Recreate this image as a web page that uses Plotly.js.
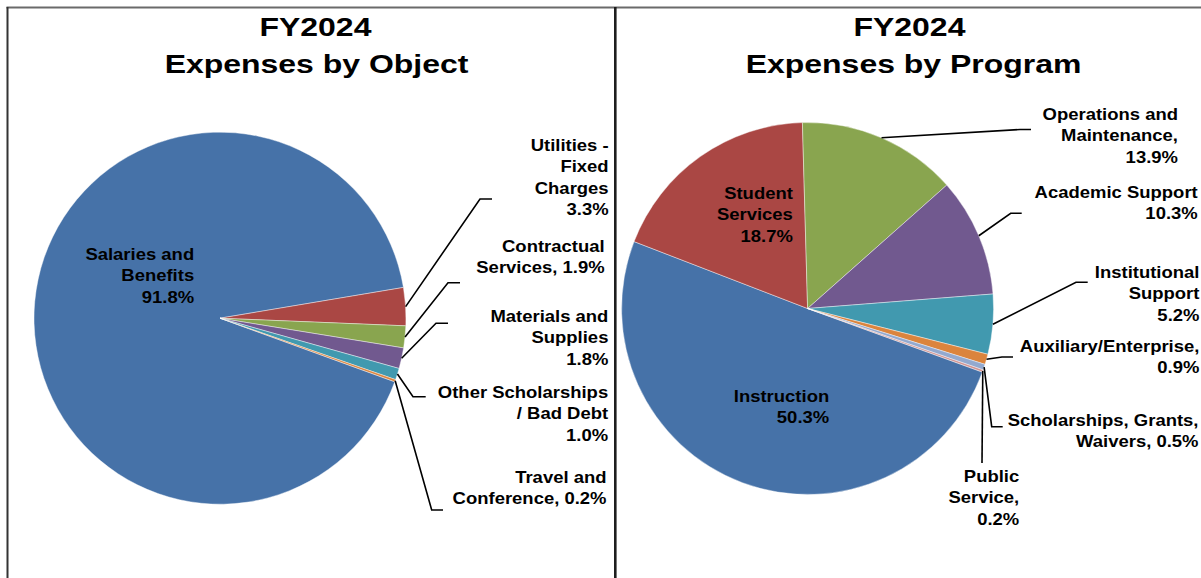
<!DOCTYPE html>
<html>
<head>
<meta charset="utf-8">
<script src="https://cdn.plot.ly/plotly-3.0.1.min.js"></script>
<style>
html,body{margin:0;padding:0;background:#fff;overflow:hidden;}
#chart{width:1201px;height:578px;}
</style>
</head>
<body>
<div id="chart"></div>
<script>
// ---- Data ----
const objectLabels = ['Salaries and Benefits', 'Utilities - Fixed Charges', 'Contractual Services', 'Materials and Supplies', 'Other Scholarships / Bad Debt', 'Travel and Conference'];
const objectValues = [91.8, 3.3, 1.9, 1.8, 1.0, 0.2];
const objectLabelLines = ['Salaries and<br>Benefits<br>', 'Utilities -<br>Fixed<br>Charges<br>', 'Contractual<br>Services, ', 'Materials and<br>Supplies<br>', 'Other Scholarships<br>/ Bad Debt<br>', 'Travel and<br>Conference, '];

const programLabels = ['Instruction', 'Student Services', 'Operations and Maintenance', 'Academic Support', 'Institutional Support', 'Auxiliary/Enterprise', 'Scholarships, Grants, Waivers', 'Public Service'];
const programValues = [50.3, 18.7, 13.9, 10.3, 5.2, 0.9, 0.5, 0.2];
const programLabelLines = ['Instruction<br>', 'Student<br>Services<br>', 'Operations and<br>Maintenance,<br>', 'Academic Support<br>', 'Institutional<br>Support<br>', 'Auxiliary/Enterprise,<br>', 'Scholarships, Grants,<br>Waivers, ', 'Public<br>Service,<br>'];

const titleYear = 'FY2024';
const titleObject = 'Expenses by Object';
const titleProgram = 'Expenses by Program';

const sliceColors = ['#4672A8', '#AA4744', '#89A54F', '#71598F', '#4199AF', '#DB843D', '#93A9CF', '#D19392'];

// ---- Layout helpers ----
const W = 1201, H = 578;
const px = x => x / W;
const py = y => 1 - y / H;

const ROT = 110;
const pieL = {cx: 220, cy: 318.2, r: 186};
const pieR = {cx: 807.6, cy: 308.5, r: 186};

function domainOf(p) {
  return {x: [px(p.cx - p.r), px(p.cx + p.r)], y: [py(p.cy + p.r), py(p.cy - p.r)]};
}
function edgePoint(values, idx, p) {
  const total = values.reduce((a, b) => a + b, 0);
  let start = ROT;
  for (let i = 0; i < idx; i++) start += values[i] / total * 360;
  const mid = (start + values[idx] / total * 180) * Math.PI / 180;
  return [p.cx + p.r * Math.sin(mid), p.cy - p.r * Math.cos(mid)];
}

const font = {family: 'Liberation Sans, Arial, sans-serif', size: 16.5, color: '#000', weight: 'bold'};

const traces = [
  {
    type: 'pie', labels: objectLabels, values: objectValues, sort: false,
    direction: 'clockwise', rotation: ROT, textinfo: 'none', hoverinfo: 'label+percent',
    marker: {colors: sliceColors, line: {color: 'rgba(255,255,255,0.7)', width: 0.6}},
    domain: domainOf(pieL), showlegend: false
  },
  {
    type: 'pie', labels: programLabels, values: programValues, sort: false,
    direction: 'clockwise', rotation: ROT, textinfo: 'none', hoverinfo: 'label+percent',
    marker: {colors: sliceColors, line: {color: 'rgba(255,255,255,0.7)', width: 0.6}},
    domain: domainOf(pieR), showlegend: false
  }
];

// label positions: [right edge x, center y] in px
const objectLabelPos = [[196, 275], [610, 177], [606, 256], [610, 337], [610, 413], [608, 488]];
const programLabelPos = [[831, 406], [794, 214], [1179, 135], [1199, 203], [1201, 293], [1201, 356], [1200, 430], [1021, 497]];

// leader lines: elbow + end in px (null = no leader)
const objectLeaders = [null, [[480, 199], [492, 199]], [[448, 282.7], [460, 282.7]], [[436, 323.3], [448, 323.3]], [[413, 396.7], [425.7, 396.7]], [[431.7, 510], [443, 510]]];
const programLeaders = [null, null, [[1020, 129.5], [1031, 129.5]], [[1010.7, 213.3], [1021.7, 213.3]], [[1076, 282.3], [1087.7, 282.3]], [[1002, 357], [1013, 357]], [[991.7, 426.7], [1002.7, 426.7]], [[982, 463], [982, 463]]];

const annotations = [];
const shapes = [];
const stretch = []; // per annotation: [scaleX, origin]

function addLabels(labelsText, values, pos) {
  labelsText.forEach((t, i) => {
    annotations.push({
      xref: 'paper', yref: 'paper', x: px(pos[i][0]), y: py(pos[i][1]),
      xanchor: 'right', yanchor: 'middle', align: 'right', showarrow: false,
      borderpad: 0, text: t + values[i].toFixed(1) + '%', font: font
    });
    stretch.push([1.12, '100% 50%']);
  });
}
addLabels(objectLabelLines, objectValues, objectLabelPos);
addLabels(programLabelLines, programValues, programLabelPos);

function addLeaders(values, leaders, p) {
  leaders.forEach((l, i) => {
    if (!l) return;
    const s = edgePoint(values, i, p);
    const pts = [s].concat(l);
    const path = pts.map((q, k) => (k ? 'L' : 'M') + px(q[0]).toFixed(5) + ',' + py(q[1]).toFixed(5)).join(' ');
    shapes.push({type: 'path', xref: 'paper', yref: 'paper', path: path, line: {color: '#000', width: 1.6}});
  });
}
addLeaders(objectValues, objectLeaders, pieL);
addLeaders(programValues, programLeaders, pieR);

// titles
const titleFont = {family: 'Liberation Sans, Arial, sans-serif', size: 26, color: '#000', weight: 'bold'};
[[316, 27, titleYear], [316, 64, titleObject], [910, 27, titleYear], [913, 64, titleProgram]].forEach(t => {
  annotations.push({xref: 'paper', yref: 'paper', x: px(t[0]), y: py(t[1]), xanchor: 'center', yanchor: 'middle',
    showarrow: false, borderpad: 0, text: t[2], font: titleFont});
  stretch.push([1.23, '50% 50%']);
});

// frame lines
shapes.push({type: 'line', xref: 'paper', yref: 'paper', x0: px(6.5), x1: px(1201), y0: py(7.5), y1: py(7.5), line: {color: '#6a6a6a', width: 2}});
shapes.push({type: 'line', xref: 'paper', yref: 'paper', x0: px(7.5), x1: px(7.5), y0: py(7), y1: py(580), line: {color: '#333', width: 2}});
shapes.push({type: 'line', xref: 'paper', yref: 'paper', x0: px(615.3), x1: px(615.3), y0: py(7), y1: py(580), line: {color: '#1e1e1e', width: 2.6}});

const layout = {
  width: W, height: H, margin: {l: 0, r: 0, t: 0, b: 0},
  paper_bgcolor: '#fff', plot_bgcolor: '#fff',
  showlegend: false, annotations: annotations, shapes: shapes
};

function applyStretch() {
  document.querySelectorAll('#chart g.annotation').forEach(g => {
    const idx = +g.getAttribute('data-index');
    const st = stretch[idx];
    const txt = g.querySelector('text.annotation-text');
    if (!st || !txt) return;
    txt.style.transformBox = 'fill-box';
    txt.style.transformOrigin = st[1];
    txt.style.transform = 'scaleX(' + st[0] + ')';
  });
}

Plotly.newPlot('chart', traces, layout, {staticPlot: true, displayModeBar: false}).then(applyStretch);
applyStretch();
</script>
</body>
</html>
